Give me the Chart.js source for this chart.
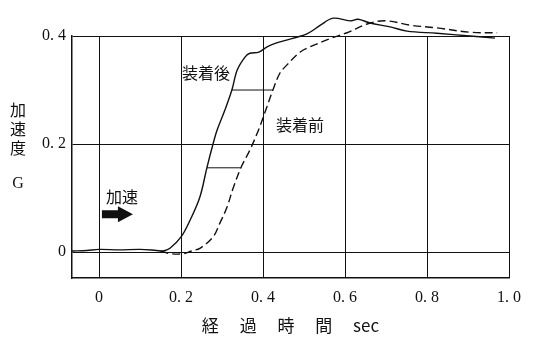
<!DOCTYPE html>
<html>
<head>
<meta charset="utf-8">
<script src="https://cdn.jsdelivr.net/npm/chart.js@4/dist/chart.umd.min.js"></script>
<style>
html, body { margin: 0; background: #fff; }
</style>
</head>
<body>
<canvas id="accelChart" width="538" height="352"></canvas>
<script>
// 装着後 (solid)
var afterX = [-0.066, -0.03, 0, 0.05, 0.1, 0.14, 0.156, 0.173, 0.2, 0.222, 0.246, 0.263, 0.278, 0.288, 0.307, 0.324, 0.337, 0.356, 0.368, 0.39, 0.41, 0.441, 0.507, 0.54, 0.571, 0.612, 0.632, 0.661, 0.71, 0.751, 0.824, 0.905, 0.966];
var afterY = [0.002, 0.003, 0.005, 0.004, 0.005, 0.003, 0.002, 0.007, 0.028, 0.059, 0.102, 0.156, 0.2, 0.226, 0.263, 0.3, 0.337, 0.361, 0.368, 0.37, 0.38, 0.389, 0.404, 0.42, 0.433, 0.428, 0.431, 0.424, 0.417, 0.409, 0.405, 0.4, 0.396];

// 装着前 (dashed)
var beforeX = [0.15, 0.175, 0.205, 0.225, 0.246, 0.278, 0.295, 0.312, 0.327, 0.346, 0.368, 0.39, 0.41, 0.424, 0.441, 0.459, 0.49, 0.515, 0.563, 0.605, 0.661, 0.702, 0.759, 0.824, 0.905, 0.971];
var beforeY = [0.002, -0.003, -0.003, 0.002, 0.007, 0.028, 0.054, 0.083, 0.118, 0.156, 0.189, 0.228, 0.27, 0.3, 0.331, 0.347, 0.37, 0.38, 0.395, 0.406, 0.424, 0.428, 0.42, 0.415, 0.407, 0.406];

// time-lag markers between the two curves
var lagLevels = [0.156, 0.3];
var lagFrom = [0.263, 0.324];
var lagTo = [0.346, 0.424];

var xTicks = [0, 0.2, 0.4, 0.6, 0.8, 1.0];
var yTicks = [0, 0.2, 0.4];

function toPoints(xs, ys) {
    return xs.map(function(x, i) { return { x: x, y: ys[i] }; });
}

function tickText(v) {
    return v === 0 ? '0' : v.toFixed(1).replace('.', '. ');
}

var numFont = { family: '"Liberation Serif", serif', size: 16 };
var jpFont = '"Noto Sans CJK JP", sans-serif';

var datasets = [
    {
        label: '装着後',
        data: toPoints(afterX, afterY),
        borderColor: '#111',
        borderWidth: 1.4,
        pointRadius: 0,
        tension: 0.35,
        clip: false
    },
    {
        label: '装着前',
        data: toPoints(beforeX, beforeY),
        borderColor: '#111',
        borderWidth: 1.4,
        borderDash: [8, 4],
        pointRadius: 0,
        tension: 0.35,
        clip: false
    }
];
lagLevels.forEach(function(lv, i) {
    datasets.push({
        label: 'lag' + i,
        data: [{ x: lagFrom[i], y: lv }, { x: lagTo[i], y: lv }],
        borderColor: '#111',
        borderWidth: 1,
        pointRadius: 0,
        clip: false
    });
});

// 注記とY軸タイトル
var notesPlugin = {
    id: 'notes',
    afterDatasetsDraw: function(chart) {
        var c = chart.ctx, xs = chart.scales.x, ys = chart.scales.y;
        c.save();
        c.fillStyle = '#111';
        c.textAlign = 'center';
        c.textBaseline = 'middle';
        c.font = '16px ' + jpFont;
        c.fillText('装着後', xs.getPixelForValue(0.261), ys.getPixelForValue(0.331));
        c.fillText('装着前', xs.getPixelForValue(0.49), ys.getPixelForValue(0.235));
        c.fillText('加速', xs.getPixelForValue(0.056), ys.getPixelForValue(0.102));

        // arrow
        var ax = xs.getPixelForValue(0.007), ay = ys.getPixelForValue(0.07);
        c.beginPath();
        c.moveTo(ax, ay - 4);
        c.lineTo(ax + 16, ay - 4);
        c.lineTo(ax + 16, ay - 8);
        c.lineTo(ax + 31, ay);
        c.lineTo(ax + 16, ay + 8);
        c.lineTo(ax + 16, ay + 4);
        c.lineTo(ax, ay + 4);
        c.closePath();
        c.fill();

        // y axis title, stacked
        c.font = '16px ' + jpFont;
        c.fillText('加', 18, 110);
        c.fillText('速', 18, 129);
        c.fillText('度', 18, 148);
        c.font = '16px "Liberation Serif", serif';
        c.fillText('G', 18, 184);
        c.restore();
    }
};

var ctx = document.getElementById('accelChart').getContext('2d');
var accelChart = new Chart(ctx, {
    type: 'line',
    data: { datasets: datasets },
    options: {
        responsive: false,
        animation: false,
        layout: { padding: { top: 36, right: 29, left: 0, bottom: 12 } },
        plugins: {
            legend: { display: false },
            tooltip: { enabled: false }
        },
        scales: {
            x: {
                type: 'linear',
                min: -0.066,
                max: 1.0,
                afterBuildTicks: function(s) { s.ticks = xTicks.map(function(v) { return { value: v }; }); },
                afterFit: function(s) { s.height = 62; },
                grid: { color: '#111', lineWidth: 1, drawTicks: false },
                border: { display: true, color: '#111', width: 1.5 },
                ticks: {
                    color: '#111',
                    font: numFont,
                    padding: 10,
                    maxRotation: 0,
                    autoSkip: false,
                    callback: function(v) { return tickText(v); }
                },
                title: {
                    display: true,
                    text: '経　 過　 時　 間　 sec',
                    color: '#111',
                    font: { family: jpFont, size: 17 },
                    padding: { top: 10 }
                }
            },
            y: {
                type: 'linear',
                min: -0.048,
                max: 0.4,
                afterBuildTicks: function(s) { s.ticks = yTicks.map(function(v) { return { value: v }; }); },
                afterFit: function(s) { s.width = 72; },
                grid: { color: '#111', lineWidth: 1, drawTicks: false },
                border: { display: true, color: '#111', width: 1.5 },
                ticks: {
                    color: '#111',
                    font: numFont,
                    padding: 6,
                    callback: function(v) { return tickText(v); }
                }
            }
        }
    },
    plugins: [notesPlugin]
});
</script>
</body>
</html>
